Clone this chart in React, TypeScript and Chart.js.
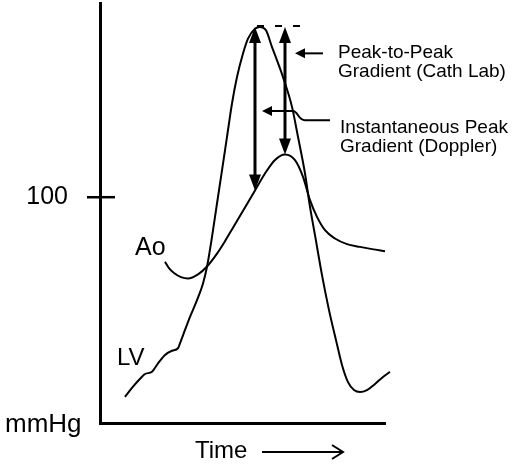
import React, { useEffect, useRef } from "react";
import { Chart, registerables } from "chart.js";

Chart.register(...registerables);

// ---- data (time in arbitrary units, pressure in mmHg) ----
const LV_TIME = [25, 33, 42, 45, 52, 58, 65, 72, 78, 80, 85, 90, 97, 103, 107, 112, 117, 122, 127, 132, 137, 143, 148, 155, 160, 166, 172, 177, 183, 192, 198, 205, 210, 215, 222, 229, 236, 242, 248, 254, 260, 267, 275, 283, 290];
const LV_MMHG = [11.6, 16.1, 20.5, 21.7, 22.7, 26.4, 30.1, 32.0, 33.1, 35.3, 41.2, 47.0, 54.4, 61.8, 69.2, 82.4, 97.2, 111.9, 126.7, 141.5, 153.2, 163.6, 170.2, 174.6, 175.4, 173.9, 166.5, 160.6, 153.2, 140.0, 126.7, 110.5, 95.7, 83.2, 65.5, 50.0, 36.7, 25.7, 18.1, 14.6, 13.7, 14.6, 17.3, 20.4, 22.7];

const AO_TIME = [65, 69, 74, 81, 88, 98, 107, 117, 125, 133, 142, 155, 165, 175, 185, 195, 203, 210, 217, 225, 235, 247, 260, 272, 285];
const AO_MMHG = [71.4, 68.6, 66.4, 64.6, 64.0, 65.8, 69.3, 75.0, 80.5, 86.5, 93.2, 103.0, 110.5, 116.5, 118.9, 116.4, 109.0, 98.7, 91.3, 85.4, 81.7, 79.2, 78.0, 77.0, 76.1];

const Y_TICKS = [100];
const Y_MAX = 186;
const X_MAX = 285;

const LV_PEAK = 175.4;
const GRADIENT_TIMES = [155, 185]; // instantaneous, peak-to-peak
const GRADIENT_BOTTOMS = [103.0, 118.9]; // Ao at those times
const DASH_RANGE = [157, 207];

const PTP_POINTER_T = [223, 195];
const PTP_POINTER_Y = [163.7, 163.7];
const INST_POINTER_T = [230, 205, 193, 162];
const INST_POINTER_Y = [134.1, 134.1, 138.2, 138.2];

const PTP_LABEL = ["Peak-to-Peak", "Gradient (Cath Lab)"];
const INST_LABEL = ["Instantaneous Peak", "Gradient (Doppler)"];

const FONT = "'Liberation Sans', Arial, Helvetica, sans-serif";

function fillHead(ctx: CanvasRenderingContext2D, tx: number, ty: number, dx: number, dy: number, len: number, half: number) {
  const bx = tx - dx * len;
  const by = ty - dy * len;
  const px = -dy, py = dx;
  ctx.beginPath();
  ctx.moveTo(tx, ty);
  ctx.lineTo(bx + px * half, by + py * half);
  ctx.lineTo(bx - px * half, by - py * half);
  ctx.closePath();
  ctx.fill();
}

const annotationPlugin = {
  id: "annotations",
  beforeDraw(chart: any) {
    const ctx = chart.ctx;
    ctx.save();
    ctx.fillStyle = "#fff";
    ctx.fillRect(0, 0, chart.width, chart.height);
    ctx.restore();
  },
  afterDraw(chart: any) {
    const ctx: CanvasRenderingContext2D = chart.ctx;
    const xs = chart.scales.x;
    const ys = chart.scales.y;
    const X = (v: number) => xs.getPixelForValue(v);
    const Y = (v: number) => ys.getPixelForValue(v);
    const area = chart.chartArea;
    ctx.save();
    ctx.strokeStyle = "#000";
    ctx.fillStyle = "#000";

    // inner part of the y tick
    ctx.lineWidth = 2.5;
    Y_TICKS.forEach((v) => {
      ctx.beginPath();
      ctx.moveTo(area.left, Y(v));
      ctx.lineTo(area.left + 15, Y(v));
      ctx.stroke();
    });

    // dashed line at LV peak
    ctx.lineWidth = 2;
    ctx.setLineDash([7, 11]);
    ctx.beginPath();
    ctx.moveTo(X(DASH_RANGE[0]), Y(LV_PEAK) - 1);
    ctx.lineTo(X(DASH_RANGE[1]), Y(LV_PEAK) - 1);
    ctx.stroke();
    ctx.setLineDash([]);

    // double-headed gradient arrows
    GRADIENT_TIMES.forEach((t, i) => {
      const x = X(t);
      const yTop = Y(LV_PEAK);
      const yBot = Y(GRADIENT_BOTTOMS[i]);
      const len = 16, half = 6;
      ctx.lineWidth = 3;
      ctx.beginPath();
      ctx.moveTo(x, yTop + len - 2);
      ctx.lineTo(x, yBot - len + 2);
      ctx.stroke();
      fillHead(ctx, x, yTop, 0, -1, len, half);
      fillHead(ctx, x, yBot, 0, 1, len, half);
    });

    // pointer: peak-to-peak
    ctx.lineWidth = 2;
    {
      const x0 = X(PTP_POINTER_T[0]), y0 = Y(PTP_POINTER_Y[0]);
      const x1 = X(PTP_POINTER_T[1]), y1 = Y(PTP_POINTER_Y[1]);
      ctx.beginPath();
      ctx.moveTo(x0, y0);
      ctx.lineTo(x1 + 8, y1);
      ctx.stroke();
      fillHead(ctx, x1, y1, -1, 0, 10, 5);
    }
    // pointer: instantaneous
    {
      const p = INST_POINTER_T.map((t, i) => [X(t), Y(INST_POINTER_Y[i])]);
      ctx.beginPath();
      ctx.moveTo(p[0][0], p[0][1]);
      ctx.lineTo(p[1][0], p[1][1]);
      ctx.bezierCurveTo(p[1][0] - 7, p[1][1], p[2][0] + 5, p[2][1], p[2][0], p[2][1]);
      ctx.lineTo(p[3][0] + 8, p[3][1]);
      ctx.stroke();
      fillHead(ctx, p[3][0], p[3][1], -1, 0, 10, 5);
    }

    // texts
    ctx.textBaseline = "alphabetic";
    ctx.textAlign = "left";
    ctx.font = `19px ${FONT}`;
    ctx.fillText(PTP_LABEL[0], 338, 58);
    ctx.fillText(PTP_LABEL[1], 338, 77);
    ctx.fillText(INST_LABEL[0], 340, 133);
    ctx.fillText(INST_LABEL[1], 340, 152);

    ctx.font = `25px ${FONT}`;
    ctx.fillText("Ao", 135, 255);
    ctx.font = `24px ${FONT}`;
    ctx.fillText("LV", 117, 365);
    ctx.font = `26px ${FONT}`;
    ctx.fillText("mmHg", 5, 432);
    ctx.font = `24px ${FONT}`;
    ctx.fillText("Time", 195, 458);

    // time arrow
    ctx.lineWidth = 2;
    ctx.beginPath();
    ctx.moveTo(262, 452);
    ctx.lineTo(343, 452);
    ctx.moveTo(332, 445);
    ctx.lineTo(343, 452);
    ctx.lineTo(332, 459);
    ctx.stroke();

    ctx.restore();
  },
};

export default function App() {
  const ref = useRef<HTMLCanvasElement>(null);
  useEffect(() => {
    document.body.style.margin = "0";
    const lv = LV_TIME.map((t, i) => ({ x: t, y: LV_MMHG[i] }));
    const ao = AO_TIME.map((t, i) => ({ x: t, y: AO_MMHG[i] }));
    const chart = new Chart(ref.current as HTMLCanvasElement, {
      type: "line",
      data: {
        datasets: [
          { label: "LV", data: lv, borderColor: "#000", borderWidth: 2, pointRadius: 0, cubicInterpolationMode: "monotone", fill: false, clip: false as any },
          { label: "Ao", data: ao, borderColor: "#000", borderWidth: 2, pointRadius: 0, cubicInterpolationMode: "monotone", fill: false, clip: false as any },
        ],
      },
      options: {
        responsive: false,
        animation: false,
        devicePixelRatio: 1,
        layout: { padding: { left: 0, right: 132, top: 3, bottom: 0 } },
        plugins: { legend: { display: false }, tooltip: { enabled: false } },
        scales: {
          x: {
            type: "linear",
            min: 0,
            max: X_MAX,
            afterFit: (s: any) => { s.height = 44; s.paddingLeft = 0; s.paddingRight = 0; },
            grid: { display: false },
            ticks: { display: false },
            border: { display: true, color: "#000", width: 3 },
          },
          y: {
            type: "linear",
            min: 0,
            max: Y_MAX,
            afterBuildTicks: (s: any) => { s.ticks = Y_TICKS.map((v) => ({ value: v })); },
            afterFit: (s: any) => { s.width = 100; s.paddingTop = 0; s.paddingBottom = 0; },
            grid: { drawOnChartArea: false, drawTicks: true, tickLength: 13, color: "#000", lineWidth: 2.5 },
            border: { display: true, color: "#000", width: 3 },
            ticks: { color: "#000", padding: 19, font: { size: 25, family: FONT } },
          },
        },
      },
      plugins: [annotationPlugin],
    });
    return () => chart.destroy();
  }, []);
  return (
    <div style={{ position: "relative", width: 517, height: 467, background: "#fff" }}>
      <canvas ref={ref} width={517} height={467} style={{ display: "block" }} />
    </div>
  );
}
